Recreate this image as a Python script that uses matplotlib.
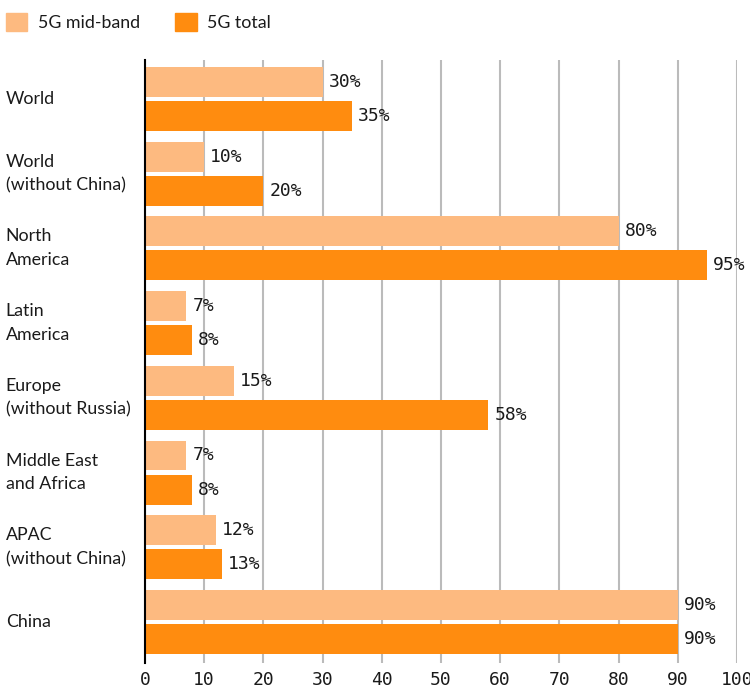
import matplotlib
matplotlib.use("Agg")
import matplotlib.pyplot as plt
from matplotlib.patches import Patch
import numpy as np

# Regionen und Anteile (in %)
regions = ["World", "World\n(without China)", "North\nAmerica", "Latin\nAmerica",
           "Europe\n(without Russia)", "Middle East\nand Africa", "APAC\n(without China)", "China"]
mid_band = [30, 10, 80, 7, 15, 7, 12, 90]
total_5g = [35, 20, 95, 8, 58, 8, 13, 90]
series_names = ["5G mid-band", "5G total"]
x_ticks = [0, 10, 20, 30, 40, 50, 60, 70, 80, 90, 100]

col_mid = "#FDBA80"
col_total = "#FF8C0F"
txt_col = "#1a1a1a"
label_font = ["Lato", "DejaVu Sans"]
mono_font = "DejaVu Sans Mono"

fig = plt.figure(figsize=(7.5, 6.9), dpi=100)
ax = fig.add_axes([0.1933, 0.039, 0.7894, 0.874])

y = np.arange(len(regions))
h = 0.40
off = 0.228

ax.barh(y - off, mid_band, height=h, color=col_mid, zorder=3)
ax.barh(y + off, total_5g, height=h, color=col_total, zorder=3)

# Werte neben den Balken
for i in range(len(regions)):
    ax.text(mid_band[i] + 1.0, y[i] - off, f"{mid_band[i]}%", va="center", ha="left",
            fontsize=13, family=mono_font, color=txt_col, zorder=4)
    ax.text(total_5g[i] + 1.0, y[i] + off, f"{total_5g[i]}%", va="center", ha="left",
            fontsize=13, family=mono_font, color=txt_col, zorder=4)

# Regionsnamen links
for i, name in enumerate(regions):
    ax.text(-23.5, y[i], name, va="center", ha="left", fontsize=12.8, family=label_font,
            color=txt_col, linespacing=1.6, transform=ax.transData, clip_on=False)

ax.set_xlim(0, 100)
ax.set_ylim(7.55, -0.52)
ax.set_xticks(x_ticks)
ax.set_xticklabels([str(t) for t in x_ticks], family=mono_font, fontsize=13, color=txt_col)
ax.set_yticks([])
ax.tick_params(axis="x", length=0, pad=6)
ax.grid(axis="x", color="#bbbbbb", linewidth=1.5, zorder=0)
for s in ["top", "right", "bottom"]:
    ax.spines[s].set_visible(False)
ax.spines["left"].set_color("black")
ax.spines["left"].set_linewidth(1.5)
ax.spines["left"].set_zorder(5)

handles = [Patch(color=col_mid), Patch(color=col_total)]
fig.legend(handles, series_names, loc="upper left", bbox_to_anchor=(-0.014, 1.005), ncol=2,
           frameon=False, prop={"family": label_font, "size": 12.8}, handlelength=1.2,
           handleheight=1.2, handletextpad=0.6, columnspacing=2.0, labelcolor=txt_col)

fig.savefig("out.png", dpi=100)
